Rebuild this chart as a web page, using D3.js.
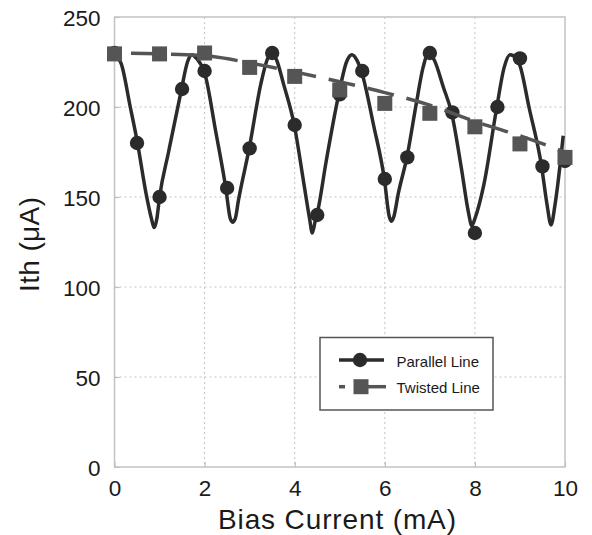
<!DOCTYPE html>
<html>
<head>
<meta charset="utf-8">
<script src="https://cdn.jsdelivr.net/npm/d3@7"></script>
<style>
  body { margin: 0; background: #fff; }
  svg text { font-family: "Liberation Sans", Arial, sans-serif; fill: #1a1a1a; }
</style>
</head>
<body>
<div id="chart"></div>
<script>
// Parallel line: measured points
const parallelX = [0, 0.5, 1.0, 1.5, 2.0, 2.5, 3.0, 3.5, 4.0, 4.5, 5.0, 5.5, 6.0, 6.5, 7.0, 7.5, 8.0, 8.5, 9.0, 9.5, 10];
const parallelY = [230, 180, 150, 210, 220, 155, 177, 230, 190, 140, 207, 220, 160, 172, 230, 197, 130, 200, 227, 167, 170];

// Parallel line: fitted curve
const parallelFitX = [0, 0.15, 0.35, 0.51, 0.7, 0.82, 0.88, 0.94, 1.0, 1.2, 1.48, 1.62, 1.72, 1.82, 2.0, 2.25, 2.47,
  2.57, 2.62, 2.68, 2.75, 2.99, 3.25, 3.4, 3.49, 3.6, 3.75, 3.99, 4.2, 4.33, 4.39, 4.45, 4.51, 4.7, 4.97, 5.15, 5.27,
  5.38, 5.49, 5.75, 5.99, 6.1, 6.15, 6.2, 6.3, 6.49, 6.7, 6.85, 6.97, 7.1, 7.3, 7.48, 7.7, 7.86, 7.93, 8.0, 8.2, 8.48,
  8.65, 8.78, 8.92, 9.0, 9.2, 9.48, 9.6, 9.69, 9.78, 9.96];
const parallelFitY = [229, 224, 200, 180, 152, 138, 133, 138, 150, 175, 209, 225, 229, 227, 219, 186, 155,
  138, 136, 138, 148, 177, 213, 227, 230, 226, 213, 190, 158, 138, 130, 136, 142, 170, 206, 225, 229,
  226, 219, 190, 160, 139, 136.5, 139, 152, 172, 202, 222, 230, 226, 211, 197, 166, 141, 134, 138, 157, 199,
  222, 229, 227, 223, 200, 167, 146, 134.5, 146, 184];

// Twisted line: measured points and fitted trend
const twistedX = [0, 1, 2, 3, 4, 5, 6, 7, 8, 9, 10];
const twistedY = [229.5, 229.5, 230, 222, 217, 209.5, 202, 196.5, 189, 179.5, 172];
const twistedFitX = [0, 1, 2, 3, 4, 5, 6, 7, 8, 9, 10];
const twistedFitY = [230, 229.5, 228.5, 224.5, 219.5, 214, 208, 201, 192, 184, 175];

const xTicks = [0, 2, 4, 6, 8, 10];
const yTicks = [0, 50, 100, 150, 200, 250];
const legendItems = ['Parallel Line', 'Twisted Line'];

const W = 592, H = 535;
const margin = { top: 17, right: 27, bottom: 68, left: 114.5 };
const width = W - margin.left - margin.right;
const height = H - margin.top - margin.bottom;

const dark = '#2b2b2b';
const grey = '#555555';

const svg = d3.select('#chart').append('svg')
  .attr('width', W)
  .attr('height', H);

const g = svg.append('g')
  .attr('transform', `translate(${margin.left},${margin.top})`);

const x = d3.scaleLinear().domain([0, 10]).range([0, width]);
const y = d3.scaleLinear().domain([0, 250]).range([height, 0]);

// grid
g.append('g').selectAll('line')
  .data(xTicks.slice(1, -1))
  .join('line')
  .attr('x1', d => x(d)).attr('x2', d => x(d))
  .attr('y1', 0).attr('y2', height)
  .attr('stroke', '#c4c4c4').attr('stroke-width', 1).attr('stroke-dasharray', '2,3');
g.append('g').selectAll('line')
  .data(yTicks.slice(1, -1))
  .join('line')
  .attr('y1', d => y(d)).attr('y2', d => y(d))
  .attr('x1', 0).attr('x2', width)
  .attr('stroke', '#c4c4c4').attr('stroke-width', 1).attr('stroke-dasharray', '2,3');

// axes (ticks drawn inward)
const xAxis = g.append('g')
  .attr('transform', `translate(0,${height})`)
  .call(d3.axisBottom(x).tickValues(xTicks).tickSize(-5).tickPadding(12).tickFormat(d3.format('d')));
const yAxis = g.append('g')
  .call(d3.axisLeft(y).tickValues(yTicks).tickSize(-5).tickPadding(14).tickFormat(d3.format('d')));
[xAxis, yAxis].forEach(a => {
  a.select('.domain').remove();
  a.selectAll('.tick line').attr('stroke', '#bdbdbd').attr('stroke-width', 1.2);
  a.selectAll('.tick text').attr('font-size', 22.5).attr('fill', '#1a1a1a')
    .style('font-family', '"Liberation Sans", Arial, sans-serif');
});
xAxis.selectAll('.tick text').attr('dy', '0.76em');
yAxis.selectAll('.tick text').attr('dy', '0.36em');

// frame
g.append('rect')
  .attr('width', width).attr('height', height)
  .attr('fill', 'none').attr('stroke', '#c2c2c2').attr('stroke-width', 1.5);

// parallel fitted curve
const curveLine = d3.line()
  .x((d, i) => x(parallelFitX[i]))
  .y(d => y(d))
  .curve(d3.curveMonotoneX);
g.append('path')
  .attr('d', curveLine(parallelFitY))
  .attr('fill', 'none').attr('stroke', dark).attr('stroke-width', 3.5)
  .attr('stroke-linejoin', 'round');

g.append('g').selectAll('circle')
  .data(parallelY)
  .join('circle')
  .attr('cx', (d, i) => x(parallelX[i]))
  .attr('cy', d => y(d))
  .attr('r', 7.2)
  .attr('fill', dark);

// twisted fitted trend (dashed)
const trendLine = d3.line()
  .x((d, i) => x(twistedFitX[i]))
  .y(d => y(d))
  .curve(d3.curveMonotoneX);
g.append('path')
  .attr('d', trendLine(twistedFitY))
  .attr('fill', 'none').attr('stroke', grey).attr('stroke-width', 3.5)
  .attr('stroke-dasharray', '27,13').attr('stroke-dashoffset', 23.5);

g.append('g').selectAll('rect')
  .data(twistedY)
  .join('rect')
  .attr('x', (d, i) => x(twistedX[i]) - 7.5)
  .attr('y', d => y(d) - 7.5)
  .attr('width', 15).attr('height', 15)
  .attr('fill', grey);

// axis titles
svg.append('text')
  .attr('x', 337).attr('y', 529)
  .attr('text-anchor', 'middle')
  .attr('font-size', 28)
  .attr('textLength', 238).attr('lengthAdjust', 'spacing')
  .text('Bias Current (mA)');
svg.append('text')
  .attr('transform', 'translate(39,244.5) rotate(-90)')
  .attr('text-anchor', 'middle')
  .attr('font-size', 28)
  .attr('textLength', 95).attr('lengthAdjust', 'spacing')
  .text('Ith (\u03bcA)');

// legend
const legend = svg.append('g').attr('transform', 'translate(320,337.5)');
legend.append('rect')
  .attr('width', 173).attr('height', 72.5)
  .attr('fill', '#fff').attr('stroke', grey).attr('stroke-width', 1.5);

const l1 = legend.append('g').attr('transform', 'translate(0,22.5)');
l1.append('line').attr('x1', 19).attr('x2', 64).attr('stroke', dark).attr('stroke-width', 3.5);
l1.append('circle').attr('cx', 40).attr('r', 7.2).attr('fill', dark);
l1.append('text').attr('x', 76.5).attr('y', 6.5).attr('font-size', 15).text(legendItems[0]);

const l2 = legend.append('g').attr('transform', 'translate(0,49.2)');
l2.append('line').attr('x1', 19).attr('x2', 25).attr('stroke', grey).attr('stroke-width', 3.5);
l2.append('line').attr('x1', 46).attr('x2', 66).attr('stroke', grey).attr('stroke-width', 3.5);
l2.append('rect').attr('x', 33.5).attr('y', -7.5).attr('width', 15).attr('height', 15).attr('fill', grey);
l2.append('text').attr('x', 76.5).attr('y', 6).attr('font-size', 15).text(legendItems[1]);
</script>
</body>
</html>
